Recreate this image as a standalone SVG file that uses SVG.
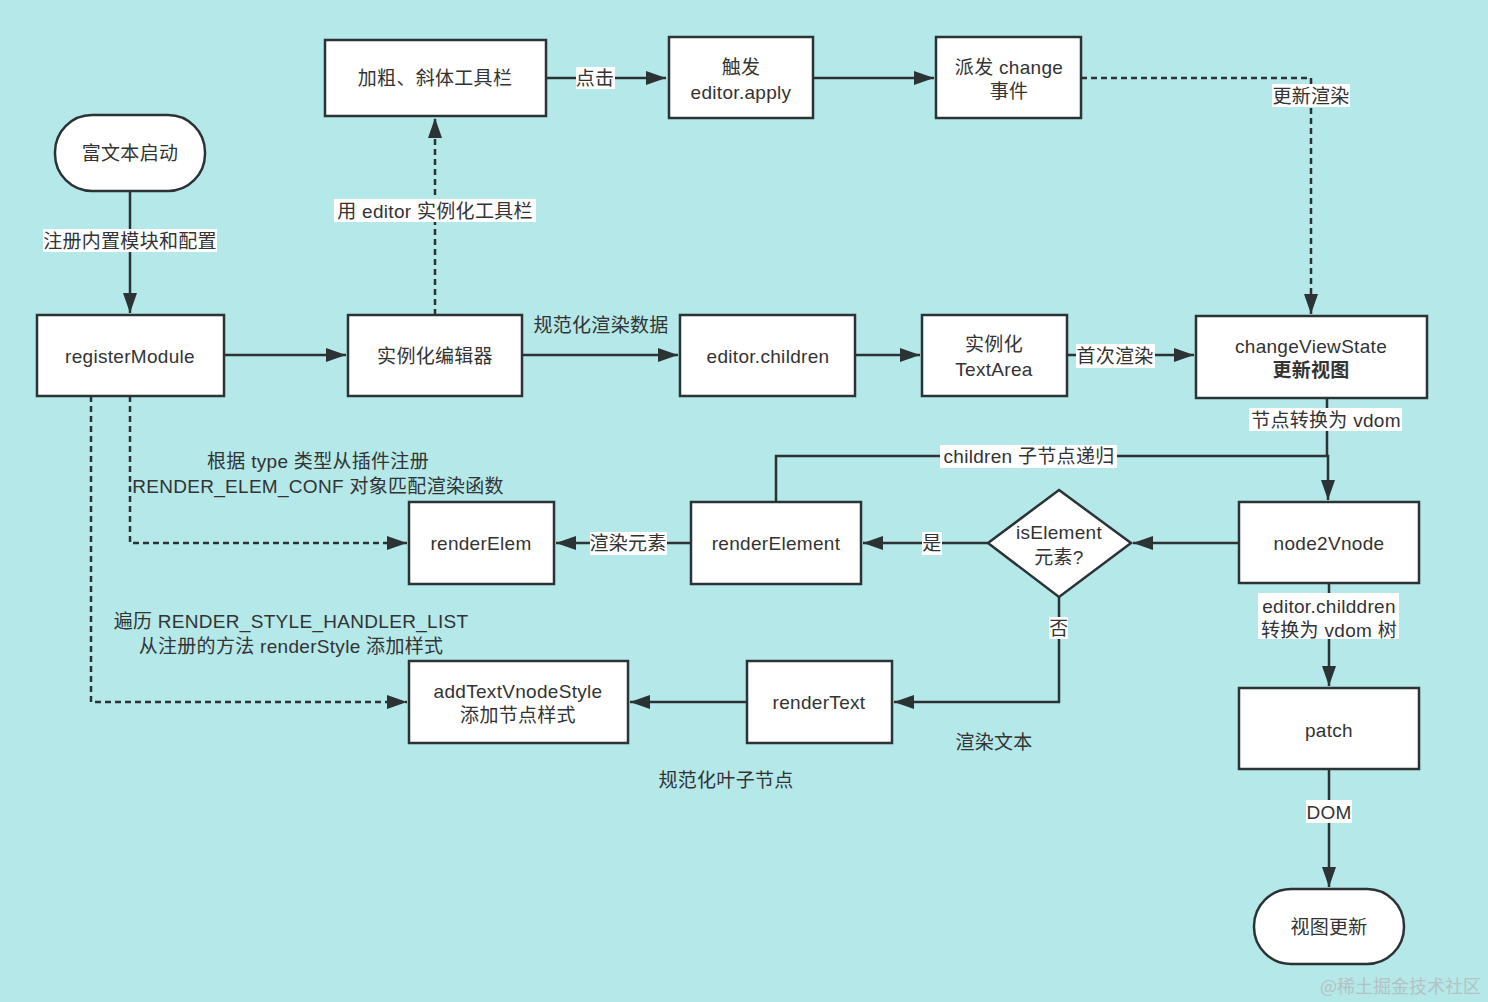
<svg xmlns="http://www.w3.org/2000/svg" width="1488" height="1002" viewBox="0 0 1488 1002">
<style>
.n{fill:#fff;stroke:#2b3335;stroke-width:2.5}
.t{font-family:"Liberation Sans","Noto Sans CJK SC",sans-serif;font-size:19px;letter-spacing:0.3px;fill:#333;text-anchor:middle;dominant-baseline:central}
.b{font-weight:bold}
.c{fill:none;stroke:#2b3335;stroke-width:2.5}
.d{stroke-dasharray:6 4}
.bg{fill:#fff}
.w{font-family:"Noto Sans CJK SC",sans-serif;font-size:18px;fill:#b4c2c3;text-anchor:end;dominant-baseline:central}
</style>
<defs>
<marker id="a" markerUnits="userSpaceOnUse" markerWidth="22" markerHeight="16" refX="20" refY="7" orient="auto">
<path d="M0,0 L20,7 L0,14 z" fill="#2b3335"/>
</marker>
</defs>
<rect width="1488" height="1002" fill="#b4e8e9"/>
<g id="connectors">
<path class="c" d="M130,191 V313" marker-end="url(#a)"/>
<path class="c" d="M224,355 H346" marker-end="url(#a)"/>
<path class="c d" d="M435,315 V118" marker-end="url(#a)"/>
<path class="c" d="M546,78 H666" marker-end="url(#a)"/>
<path class="c" d="M813,78 H934" marker-end="url(#a)"/>
<path class="c d" d="M1081,78 H1311 V314" marker-end="url(#a)"/>
<path class="c" d="M522,355 H678" marker-end="url(#a)"/>
<path class="c" d="M855,355 H920" marker-end="url(#a)"/>
<path class="c" d="M1067,355 H1194" marker-end="url(#a)"/>
<path class="c" d="M1327,398 V456" />
<path class="c" d="M776,502 V456 H1328 V500" marker-end="url(#a)"/>
<path class="c" d="M1239,543 H1133" marker-end="url(#a)"/>
<path class="c" d="M988,543 H863" marker-end="url(#a)"/>
<path class="c" d="M691,543 H556" marker-end="url(#a)"/>
<path class="c" d="M1059,597 V702 H894" marker-end="url(#a)"/>
<path class="c" d="M747,702 H630" marker-end="url(#a)"/>
<path class="c d" d="M130,396 V543 H407" marker-end="url(#a)"/>
<path class="c d" d="M91,396 V702 H407" marker-end="url(#a)"/>
<path class="c" d="M1329,583 V686" marker-end="url(#a)"/>
<path class="c" d="M1329,769 V887" marker-end="url(#a)"/>

<rect class="bg" x="43" y="229" width="174" height="23"/>
<text class="t" x="130" y="241">注册内置模块和配置</text>
<rect class="bg" x="334" y="199" width="202" height="23"/>
<text class="t" x="435" y="211">用 editor 实例化工具栏</text>
<rect class="bg" x="576" y="67" width="39" height="22"/>
<text class="t" x="595" y="78">点击</text>
<rect class="bg" x="1272" y="84" width="78" height="23"/>
<text class="t" x="1311" y="96">更新渲染</text>
<text class="t" x="601" y="325">规范化渲染数据</text>
<rect class="bg" x="1076" y="344" width="79" height="24"/>
<text class="t" x="1115" y="356">首次渲染</text>
<rect class="bg" x="1249" y="408" width="153" height="23"/>
<text class="t" x="1326" y="420">节点转换为 vdom</text>
<rect class="bg" x="940" y="445" width="177" height="23"/>
<text class="t" x="1029" y="456">children 子节点递归</text>
<rect class="bg" x="922" y="532" width="20" height="23"/>
<text class="t" x="932" y="543">是</text>
<rect class="bg" x="590" y="532" width="77" height="23"/>
<text class="t" x="628" y="543">渲染元素</text>
<rect class="bg" x="1049" y="617" width="19" height="22"/>
<text class="t" x="1059" y="628">否</text>
<rect class="bg" x="1258" y="593" width="141" height="46"/>
<text class="t" x="1329" y="606">editor.childdren</text>
<text class="t" x="1329" y="630">转换为 vdom 树</text>
<rect class="bg" x="1306" y="800" width="46" height="23"/>
<text class="t" x="1329" y="812">DOM</text>
<text class="t" x="318" y="461">根据 type 类型从插件注册</text>
<text class="t" x="318" y="486">RENDER_ELEM_CONF 对象匹配渲染函数</text>
<text class="t" x="291" y="621">遍历 RENDER_STYLE_HANDLER_LIST</text>
<text class="t" x="291" y="646">从注册的方法 renderStyle 添加样式</text>
<text class="t" x="994" y="742">渲染文本</text>
<text class="t" x="726" y="780">规范化叶子节点</text>
</g>
<g id="start">
<rect class="n" x="55" y="115" width="150" height="76" rx="37" ry="37"/>
<text class="t" x="130" y="153">富文本启动</text>
</g>
<g id="registerModule">
<rect class="n" x="37" y="315" width="187" height="81"/>
<text class="t" x="130" y="356">registerModule</text>
</g>
<g id="editor">
<rect class="n" x="348" y="315" width="174" height="81"/>
<text class="t" x="435" y="356">实例化编辑器</text>
</g>
<g id="toolbar">
<rect class="n" x="325" y="40" width="221" height="76"/>
<text class="t" x="435" y="78">加粗、斜体工具栏</text>
</g>
<g id="apply">
<rect class="n" x="669" y="37" width="144" height="81"/>
<text class="t" x="741" y="67">触发</text>
<text class="t" x="741" y="92">editor.apply</text>
</g>
<g id="change">
<rect class="n" x="936" y="37" width="145" height="81"/>
<text class="t" x="1009" y="67">派发 change</text>
<text class="t" x="1009" y="91">事件</text>
</g>
<g id="children">
<rect class="n" x="680" y="315" width="175" height="81"/>
<text class="t" x="768" y="356">editor.children</text>
</g>
<g id="textarea">
<rect class="n" x="922" y="315" width="145" height="81"/>
<text class="t" x="994" y="344">实例化</text>
<text class="t" x="994" y="369">TextArea</text>
</g>
<g id="changeViewState">
<rect class="n" x="1196" y="316" width="231" height="82"/>
<text class="t" x="1311" y="346">changeViewState</text>
<text class="t b" x="1311" y="370">更新视图</text>
</g>
<g id="node2Vnode">
<rect class="n" x="1239" y="502" width="180" height="81"/>
<text class="t" x="1329" y="543">node2Vnode</text>
</g>
<g id="isElement">
<polygon class="n" points="1059,490 1131,543 1059,597 988,543"/>
<text class="t" x="1059" y="532">isElement</text>
<text class="t" x="1059" y="557">元素?</text>
</g>
<g id="renderElement">
<rect class="n" x="691" y="502" width="170" height="82"/>
<text class="t" x="776" y="543">renderElement</text>
</g>
<g id="renderElem">
<rect class="n" x="409" y="502" width="145" height="82"/>
<text class="t" x="481" y="543">renderElem</text>
</g>
<g id="renderText">
<rect class="n" x="747" y="661" width="145" height="82"/>
<text class="t" x="819" y="702">renderText</text>
</g>
<g id="addTextVnodeStyle">
<rect class="n" x="409" y="661" width="219" height="82"/>
<text class="t" x="518" y="691">addTextVnodeStyle</text>
<text class="t" x="518" y="715">添加节点样式</text>
</g>
<g id="patch">
<rect class="n" x="1239" y="688" width="180" height="81"/>
<text class="t" x="1329" y="730">patch</text>
</g>
<g id="end">
<rect class="n" x="1254" y="889" width="150" height="75" rx="37" ry="37"/>
<text class="t" x="1329" y="927">视图更新</text>
</g>
<text class="w" x="1481" y="985">@稀土掘金技术社区</text>
</svg>
